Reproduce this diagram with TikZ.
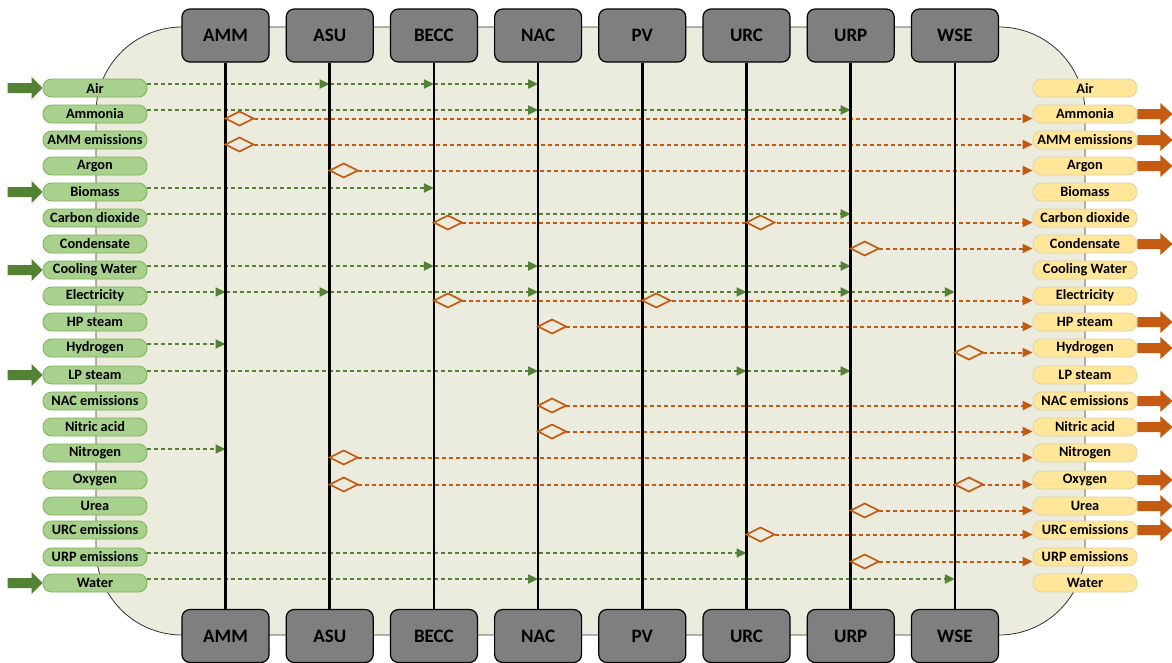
\documentclass[tikz,border=0pt]{standalone}
\usepackage{fontspec}
\setmainfont{Carlito}
\usetikzlibrary{arrows.meta,shapes.geometric,calc}
\definecolor{bgc}{HTML}{EBEBDE}
\definecolor{gfill}{HTML}{A9D18E}
\definecolor{gline}{HTML}{7DB35A}
\definecolor{gdark}{HTML}{548235}
\definecolor{yfill}{HTML}{FFE699}
\definecolor{yline}{HTML}{DDD2A8}
\definecolor{orng}{HTML}{C55A11}
\definecolor{boxg}{HTML}{7F7F7F}
\tikzset{
  bgshape/.style={draw=black!80, line width=0.8pt, fill=bgc, rounded corners=86pt},
  unitbox/.style={draw=black, line width=1.2pt, fill=boxg, rounded corners=8pt,
    minimum width=87pt, minimum height=53pt, inner sep=0pt,
    font=\fontsize{19}{21}\selectfont\bfseries},
  lleft/.style={draw=gline, line width=0.8pt, fill=gfill, rounded corners=8.5pt,
    minimum width=104pt, minimum height=18pt, inner sep=0pt,
    font=\fontsize{14.3}{16}\selectfont\bfseries},
  lright/.style={lleft, draw=yline, fill=yfill},
  life/.style={line width=2.6pt, black},
  gflow/.style={draw=gdark, line width=2pt, dash pattern=on 4pt off 3pt,
    -{Triangle[length=10pt,width=9pt]}},
  oflow/.style={draw=orng, line width=2pt, dash pattern=on 4pt off 3pt,
    -{Triangle[length=10pt,width=9pt]}},
  odiam/.style={diamond, draw=orng, line width=1.7pt, fill=bgc, inner sep=0pt,
    outer sep=0pt, minimum width=28pt, minimum height=14pt, anchor=west},
  bigin/.style={fill=gdark},
  bigout/.style={fill=orng}
}
\begin{document}
\begin{tikzpicture}[x=1pt,y=-1pt]
\useasboundingbox (0,0) rectangle (1172,662);
\path[bgshape] (96,27) rectangle (1085,635);
% units
\foreach \n/\x in {AMM/225.5,ASU/329.7,BECC/433.9,NAC/538.1,PV/642.3,URC/746.5,URP/850.7,WSE/954.9}{
  \node[unitbox] (T\n) at (\x,35.5) {\n};
  \node[unitbox] (B\n) at (\x,636) {\n};
}
% stream labels
\foreach \id/\y/\t in {air/88/Air, amm/114/Ammonia, ammem/140/AMM emissions, arg/166/Argon,
  bio/192/Biomass, co/218/Carbon dioxide, cond/244/Condensate, cw/270/Cooling Water,
  ele/296/Electricity, hp/322/HP steam, hyd/348/Hydrogen, lp/375/LP steam,
  nacem/401/NAC emissions, nit/427/Nitric acid, n/453/Nitrogen, oxy/480/Oxygen,
  urea/506/Urea, urcem/530/URC emissions, urpem/557/URP emissions, wat/583/Water}{
  \node[lleft] (L\id) at (95,\y) {\t};
  \node[lright] (R\id) at (1085,\y) {\t};
  \coordinate (g\id) at ([yshift=4pt]L\id.east);
  \coordinate (o\id) at ([yshift=-4.5pt]L\id.east);
}
% green (input) flows
\foreach \id/\tl in {air/{ASU,BECC,NAC}, amm/{NAC,URP}, bio/{BECC}, co/{URP},
  cw/{BECC,NAC,URP}, ele/{AMM,ASU,NAC,URC,URP,WSE}, hyd/{AMM}, lp/{NAC,URC,URP},
  n/{AMM}, urpem/{URC}, wat/{NAC,WSE}}{
  \coordinate (prev) at (g\id);
  \foreach \u in \tl {
    \draw[gflow] (prev) -- (g\id -| T\u.south) coordinate (prev);
  }
}
% orange (output) flows
\foreach \id/\f in {amm/AMM, ammem/AMM, arg/ASU, co/BECC, cond/URP, ele/BECC, hp/NAC,
  hyd/WSE, nacem/NAC, nit/NAC, n/ASU, oxy/ASU, urea/URP, urcem/URC, urpem/URP}{
  \draw[oflow] (o\id -| T\f.south) -- (o\id -| R\id.west);
}
% lifelines
\foreach \n in {AMM,ASU,BECC,NAC,PV,URC,URP,WSE}{
  \draw[life] (T\n.south) -- (B\n.north);
}
% diamonds
\foreach \id/\tl in {amm/{AMM}, ammem/{AMM}, arg/{ASU}, co/{BECC,URC}, cond/{URP},
  ele/{BECC,PV}, hp/{NAC}, hyd/{WSE}, nacem/{NAC}, nit/{NAC}, n/{ASU}, oxy/{ASU,WSE},
  urea/{URP}, urcem/{URC}, urpem/{URP}}{
  \foreach \u in \tl {
    \node[odiam] at (o\id -| T\u.south) {};
  }
}
% big input arrows
\foreach \id in {air,bio,cw,lp,wat}{
  \fill[bigin] (L\id.west) -- ++(-11,-11) -- ++(0,6) -- ++(-24,0) -- ++(0,10)
    -- ++(24,0) -- ++(0,6) -- cycle;
}
% big output arrows
\foreach \id in {amm,ammem,arg,cond,hp,hyd,nacem,nit,oxy,urea,urcem}{
  \fill[bigout] ([yshift=5pt]R\id.east) -- ++(23,0) -- ++(0,-6) -- ++(12,11)
    -- ++(-12,11) -- ++(0,-6) -- ++(-23,0) -- cycle;
}
\end{tikzpicture}
\end{document}
